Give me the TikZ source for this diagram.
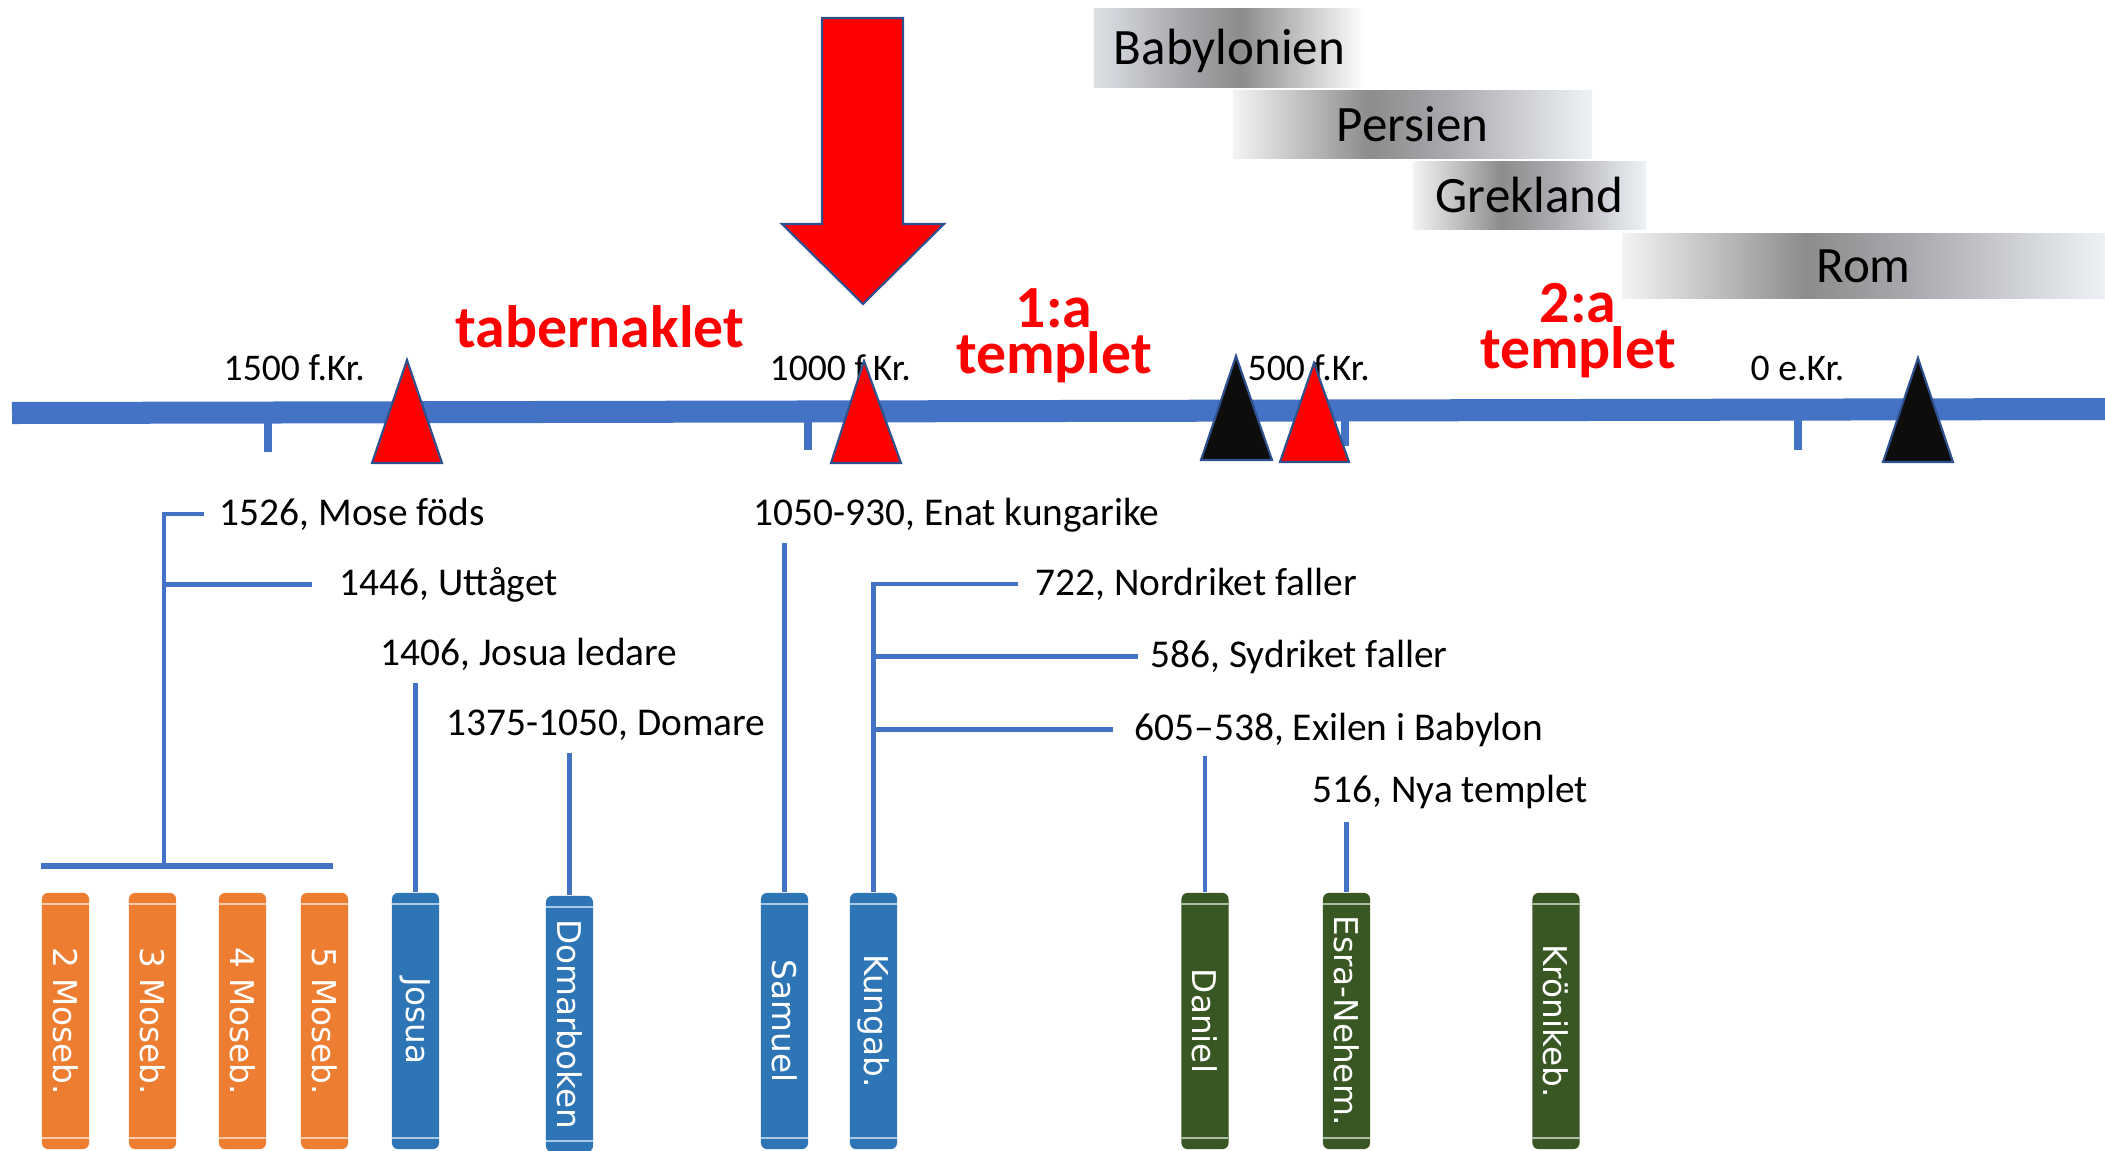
\documentclass[tikz,border=0pt]{standalone}
\usepackage{fontspec}
\setmainfont{Carlito}
\newfontfamily\bookfont{DejaVu Sans}
\usepackage{graphicx}
\usepackage{xcolor}
\usetikzlibrary{calc}
\definecolor{axisblue}{HTML}{4472C4}
\definecolor{edgeblue}{HTML}{2F528F}
\definecolor{mosorange}{HTML}{ED7D31}
\definecolor{histblue}{HTML}{2E75B6}
\definecolor{prophgreen}{HTML}{385723}
\definecolor{peakblack}{HTML}{0D0D0D}
\definecolor{emA}{HTML}{F4F4F4}
\definecolor{emB}{HTML}{8C8C8C}
\definecolor{emC}{HTML}{A9A9AF}
\definecolor{emD}{HTML}{EEF2F6}
\definecolor{emE}{HTML}{DDE1E6}
\pgfdeclarehorizontalshading{empire}{100bp}{color(0bp)=(emA); color(25bp)=(emA); color(44bp)=(emB); color(55bp)=(emC); color(75bp)=(emD); color(100bp)=(emD)}
\pgfdeclarehorizontalshading{empirerev}{100bp}{color(0bp)=(emE); color(25bp)=(emE); color(41bp)=(emC); color(52bp)=(emB); color(75bp)=(white); color(100bp)=(white)}

\begin{document}
\begin{tikzpicture}[x=0.01cm, y=-0.01cm,
  lead/.style={axisblue, line width=1.2pt},
  ev/.style={anchor=base west, inner sep=0pt, font=\fontsize{11.2pt}{13pt}\selectfont},
  yr/.style={anchor=base west, inner sep=0pt, font=\fontsize{10.7pt}{13pt}\selectfont},
  hl/.style={anchor=base, inner sep=0pt, text=red, align=center, font=\bfseries\fontsize{17pt}{11.9pt}\selectfont},
  era/.style={shade, shading=empire, inner sep=0pt, text height=9.6pt, text depth=0pt, font=\fontsize{14.5pt}{17pt}\selectfont},
  book/.style={fill=#1, rounded corners=1.7pt, minimum width=0.47cm, minimum height=2.56cm, inner sep=0pt, text=white,
    font=\bookfont\fontsize{9.3pt}{11pt}\selectfont,
    path picture={\draw[white, opacity=0.6, line width=0.5pt]
      ([yshift=-3.1pt]path picture bounding box.north west) -- ([yshift=-3.1pt]path picture bounding box.north east)
      ([yshift=3.1pt]path picture bounding box.south west) -- ([yshift=3.1pt]path picture bounding box.south east);}},
  peak/.style={draw=edgeblue, line width=0.6pt}]
\useasboundingbox (0,0) rectangle (2105,1151);

% empires
\node[era, shading=empirerev, minimum width=2.71cm, minimum height=0.78cm] (babylon) at (1229.5,48) {Babylonien};
\node[era, minimum width=3.59cm, minimum height=0.67cm] (persien) at (1412.5,124.5) {Persien};
\node[era, minimum width=2.33cm, minimum height=0.67cm] (grekland) at (1529.5,195.5) {Grekland};
\node[era, minimum width=4.83cm, minimum height=0.64cm] (rom) at (1863.5,266) {Rom};

% time axis
\draw[axisblue, line width=6.26pt] (12,413) -- (2105,409);
\draw[axisblue, line width=2.3pt] (268,418) -- (268,452);
\draw[axisblue, line width=2.3pt] (808,418) -- (808,450);
\draw[axisblue, line width=2.3pt] (1345,416) -- (1345,446);
\draw[axisblue, line width=2.3pt] (1798,416) -- (1798,450);
\node[yr] (y1500) at (223,380) {1500 f.Kr.};
\node[yr] (y1000) at (769,380) {1000 f.Kr.};
\node[yr] (y500) at (1247,380) {500 f.Kr.};
\node[yr] (y0) at (1750,380) {0 e.Kr.};

% tabernaklet and temples
\node[hl, anchor=base west] (taber) at (455,347) {tabernaklet};
\node[hl] (temp1) at (1054,373) {1:a\\templet};
\node[hl] (temp2) at (1578,368) {2:a\\templet};

\filldraw[peak, fill=red] (372,463) -- (407,360) -- (442,463) -- cycle;
\filldraw[peak, fill=red] (831,463) -- (864,361) -- (901,463) -- cycle;
\filldraw[peak, fill=peakblack] (1201,460) -- (1236,356) -- (1272,460) -- cycle;
\filldraw[peak, fill=red] (1280,462) -- (1314,363) -- (1349,462) -- cycle;
\filldraw[peak, fill=peakblack] (1883,462) -- (1918,358) -- (1953,462) -- cycle;
\filldraw[peak, fill=red] (822,18) -- (903,18) -- (903,224) -- (944,224) -- (863,304) -- (782,224) -- (822,224) -- cycle;

% events
\node[ev] (m1526) at (219,525) {1526, Mose föds};
\node[ev] (m1446) at (339,595) {1446, Uttåget};
\node[ev] (m1406) at (380,665) {1406, Josua ledare};
\node[ev] (m1375) at (446,735) {1375-1050, Domare};
\node[ev] (m1050) at (753,525) {1050-930, Enat kungarike};
\node[ev] (m722) at (1035,595) {722, Nordriket faller};
\node[ev] (m586) at (1150,667) {586, Sydriket faller};
\node[ev] (m605) at (1134,740) {605–538, Exilen i Babylon};
\node[ev] (m516) at (1312,802) {516, Nya templet};

% books
\node[book=mosorange] (mose2) at (65.5,1021) {\rotatebox{-90}{2 Moseb.}};
\node[book=mosorange] (mose3) at (152.5,1021) {\rotatebox{-90}{3 Moseb.}};
\node[book=mosorange] (mose4) at (242.5,1021) {\rotatebox{-90}{4 Moseb.}};
\node[book=mosorange] (mose5) at (324.5,1021) {\rotatebox{-90}{5 Moseb.}};
\node[book=histblue] (josua) at (415.5,1021) {\rotatebox{-90}{Josua}};
\node[book=histblue] (domar) at (569.5,1024) {\rotatebox{-90}{Domarboken}};
\node[book=histblue] (samuel) at (784.5,1021) {\rotatebox{-90}{Samuel}};
\node[book=histblue] (kung) at (873.5,1021) {\rotatebox{-90}{Kungab.}};
\node[book=prophgreen] (daniel) at (1205,1021) {\rotatebox{-90}{Daniel}};
\node[book=prophgreen] (esra) at (1346.5,1021) {\rotatebox{-90}{Esra-Nehem.}};
\node[book=prophgreen] (kron) at (1556,1021) {\rotatebox{-90}{Krönikeb.}};

% leaders
\coordinate (barL) at (41,866);
\coordinate (barM) at (164,866);
\coordinate (barR) at (333,866);
\draw[axisblue, line width=1.6pt] (barL) -- (barR);
\draw[lead] ([xshift=-4.3pt]m1526.west) -- (m1526.west -| barM) -- (barM);
\draw[lead] ([xshift=-7.7pt]m1446.west) -- (m1446.west -| barM);
\draw[lead] ($(josua.north |- m1406.base)+(0,18)$) -- (josua.north);
\draw[lead] ($(domar.north |- m1375.base)+(0,18)$) -- (domar.north);
\draw[lead] ($(samuel.north |- m1050.base)+(0,18)$) -- (samuel.north);
\draw[lead] ([xshift=-4.8pt]m722.west) -- (m722.west -| kung.north) -- (kung.north);
\draw[lead] ([xshift=-3.4pt]m586.west) -- (m586.west -| kung.north);
\draw[lead] ([xshift=-6pt]m605.west) -- (m605.west -| kung.north);
\draw[lead] ($(daniel.north |- m605.base)+(0,16)$) -- (daniel.north);
\draw[lead] ($(esra.north |- m516.base)+(0,20)$) -- (esra.north);
\end{tikzpicture}
\end{document}
